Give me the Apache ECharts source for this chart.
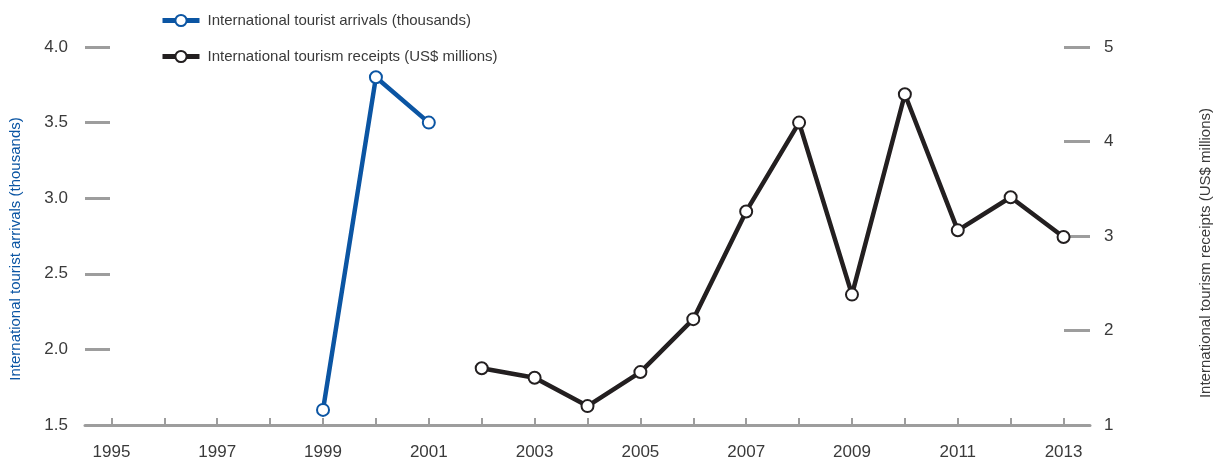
<!DOCTYPE html>
<html>
<head>
<meta charset="utf-8">
<script src="https://cdn.jsdelivr.net/npm/echarts@6/dist/echarts.min.js"></script>
<style>html,body{margin:0;padding:0;background:#fff}#c{width:1221px;height:461px}</style>
</head>
<body>
<div id="c"></div>
<script>
const years = ['1995','1996','1997','1998','1999','2000','2001','2002','2003','2004','2005','2006','2007','2008','2009','2010','2011','2012','2013'];
const arrivals = [null,null,null,null,1.6,3.8,3.5,null,null,null,null,null,null,null,null,null,null,null,null];
const receipts = [null,null,null,null,null,null,null,1.60,1.50,1.20,1.56,2.12,3.26,4.20,2.38,4.50,3.06,3.41,2.99];
const arrivalsName = 'International tourist arrivals (thousands)';
const receiptsName = 'International tourism receipts (US$ millions)';

const FONT = '"Liberation Sans Narrow", "Liberation Sans", Arial, sans-serif';
const BLUE = '#0b55a3';
const BLACK = '#231f20';
const GRAY = '#9d9d9d';
const TEXT = '#3a3a3a';

const chart = echarts.init(document.getElementById('c'), null, {renderer: 'canvas'});
chart.setOption({
  animation: false,
  textStyle: {fontFamily: FONT},
  grid: {left: 85, right: 130, top: 47, bottom: 34, containLabel: false},
  legend: {
    orient: 'vertical', left: 155, top: 8, itemWidth: 37, itemHeight: 14, itemGap: 21,
    lineStyle: {width: 5},
    itemStyle: {borderWidth: 3.5},
    textStyle: {fontFamily: FONT, fontSize: 15, color: TEXT, padding: [0,0,0,3]},
    data: [arrivalsName, receiptsName]
  },
  xAxis: {
    type: 'category', data: years, boundaryGap: true,
    axisLine: {show: true, lineStyle: {color: GRAY, width: 3}},
    axisTick: {show: true, inside: true, length: 7, alignWithLabel: true, interval: 0, lineStyle: {color: GRAY, width: 2}},
    axisLabel: {interval: 1, margin: 19, fontFamily: FONT, fontSize: 17, color: TEXT},
    splitLine: {show: false}
  },
  yAxis: [{
    type: 'value', min: 1.5, max: 4, interval: 0.5, position: 'left',
    name: arrivalsName, nameLocation: 'middle', nameRotate: 90, nameGap: 62,
    nameTextStyle: {color: BLUE, fontFamily: FONT, fontSize: 15, padding: [0, 26, 0, 0]},
    axisLine: {show: false},
    axisTick: {show: true, inside: true, length: 25, lineStyle: {color: GRAY, width: 3}},
    axisLabel: {margin: 17, fontFamily: FONT, fontSize: 17, color: TEXT, formatter: v => v.toFixed(1)},
    splitLine: {show: false}
  }, {
    type: 'value', min: 1, max: 5, interval: 1, position: 'right',
    name: receiptsName, nameLocation: 'middle', nameRotate: 90, nameGap: 108,
    nameTextStyle: {color: TEXT, fontFamily: FONT, fontSize: 15, padding: [0, 34, 0, 0]},
    axisLine: {show: false},
    axisTick: {show: true, inside: true, length: 26, lineStyle: {color: GRAY, width: 3}},
    axisLabel: {margin: 14, fontFamily: FONT, fontSize: 17, color: TEXT},
    splitLine: {show: false}
  }],
  series: [{
    name: arrivalsName, type: 'line', yAxisIndex: 0, data: arrivals,
    symbol: 'emptyCircle', symbolSize: 12, connectNulls: false,
    lineStyle: {color: BLUE, width: 4.5}, itemStyle: {color: BLUE, borderColor: BLUE, borderWidth: 3.5}
  }, {
    name: receiptsName, type: 'line', yAxisIndex: 1, data: receipts,
    symbol: 'emptyCircle', symbolSize: 12, connectNulls: false,
    lineStyle: {color: BLACK, width: 4.5}, itemStyle: {color: BLACK, borderColor: BLACK, borderWidth: 3.5}
  }]
});
</script>
</body>
</html>
